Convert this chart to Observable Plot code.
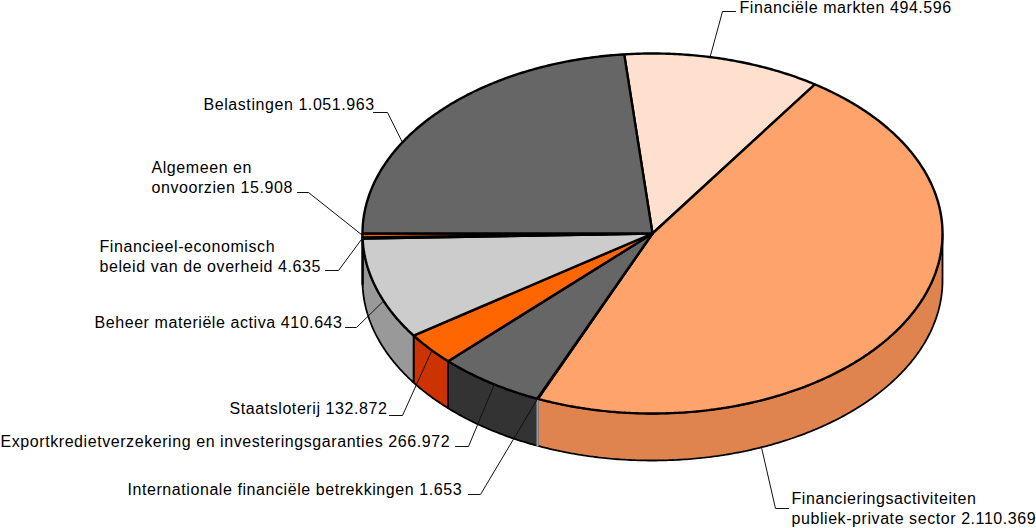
<!DOCTYPE html>
<html><head><meta charset="utf-8">
<style>html,body{margin:0;padding:0;background:#fff}svg{display:block}</style>
<script src="https://cdn.jsdelivr.net/npm/d3@7"></script>
<script src="https://cdn.jsdelivr.net/npm/@observablehq/plot@0.6"></script>
</head><body><div id="chart"></div>
<script>
const names = ["Financiële markten","Financieringsactiviteiten\npubliek-private sector","Internationale financiële betrekkingen","Exportkredietverzekering en investeringsgaranties","Staatsloterij","Beheer materiële activa","Financieel-economisch\nbeleid van de overheid","Algemeen en\nonvoorzien","Belastingen"];
const values = [494596,2110369,1653,266972,132872,410643,4635,15908,1051963];
const topColors = ["#FFE0CF","#FFA36C","#FFFFFF","#666666","#FF6600","#CCCCCC","#CCCCCC","#FF6600","#666666"];
const sideColors = ["#CCB3A6","#E0844F","#FFFFFF","#333333","#CC3300","#999999","#999999","#CC3300","#333333"];
const sideEdges = ["#000","#000","#999","#000","#000","#000","#000","#000","#000"];
// Pie placement
const cx = 652, cy = 233, rx = 290, ry = 180, depth = 47, startDeg = -5.6;
// Label placement: text start and baseline row, elbow, and where along its slice the leader lands
const labelX = [739,791,127,0,229,94,99,151,203];
const labelY = [7,498,489,441,408,322,246,167,104];
const elbowFrom = [[735,11],[788,508],[468,494],[455,446],[389,415],[345,327],[325,270],[297,192],[373,112]];
const elbowTo = [[722,11],[775,508],[480,494],[468,446],[402,415],[356,327],[338,270],[308,192],[387,112]];
const along = [0.43,0.732,0.5,0.45,0.44,0.38,0.5,0.5,0.36];
const drop = [0,1,0,0,0,0,0,0,0];
const sideOrder = [0,1,3,4,5,6,7,8,2];

const fmt = d3.formatLocale({decimal:",",thousands:".",grouping:[3],currency:["",""]}).format(",d");
const total = d3.sum(values);
let cum = startDeg;
const slices = values.map((v,i)=>{const a=cum,b=cum+v/total*360;cum=b;return {i,a,b};});
const pt = (deg,d=0)=>{const t=deg*Math.PI/180;return {x:cx+rx*Math.sin(t),y:cy-ry*Math.cos(t)+d};};
const arc = (a,b)=>{const n=Math.max(2,Math.ceil((b-a)*2));return d3.range(n+1).map(k=>a+(b-a)*k/n);};

const tops = slices.flatMap(s=>{
  const p=[{x:cx,y:cy},...arc(s.a,s.b).map(d=>pt(d)),{x:cx,y:cy}];
  return p.map(q=>({...q,k:s.i,fill:topColors[s.i]}));
});
const sides = sideOrder.map(i=>slices[i]).flatMap(s=>{
  const a=Math.max(s.a,90),b=Math.min(s.b,270);
  if(b<=a) return [];
  const as=arc(a,b);
  const p=[...as.map(d=>pt(d)),...as.slice().reverse().map(d=>pt(d,depth)),pt(a)];
  return p.map(q=>({...q,k:s.i,fill:sideColors[s.i],edge:sideEdges[s.i]}));
});
const leaders = slices.flatMap(s=>{
  const i=s.i, anchor=pt(s.a+(s.b-s.a)*along[i],drop[i]*depth);
  return [{x:elbowFrom[i][0],y:elbowFrom[i][1],k:i},{x:elbowTo[i][0],y:elbowTo[i][1],k:i},{...anchor,k:i}];
});
const labels = names.map((n,i)=>({x:labelX[i],y:labelY[i],t:n+" "+fmt(values[i])}));

const chart = Plot.plot({
  width:1036,height:528,margin:0,
  x:{domain:[0,1036],range:[0,1036],axis:null},
  y:{domain:[0,528],range:[0,528],axis:null},
  color:{type:"identity"},
  style:{letterSpacing:"0.57px",background:"#fff"},
  marks:[
    Plot.line(sides,{x:"x",y:"y",z:"k",fill:"fill",stroke:"edge",strokeWidth:1.8,strokeLinejoin:"miter"}),
    Plot.line(tops,{x:"x",y:"y",z:"k",fill:"fill",stroke:"#000",strokeWidth:2.4,strokeLinejoin:"miter"}),
    Plot.line(leaders,{x:"x",y:"y",z:"k",stroke:"#111",strokeWidth:1,strokeLinejoin:"miter"}),
    Plot.text(labels,{x:"x",y:"y",text:"t",textAnchor:"start",lineAnchor:"top",fontFamily:"Liberation Sans",fontSize:16,lineHeight:1.25,fill:"#000",dy:-8.5})
  ]
});
document.getElementById("chart").append(chart);
</script></body></html>
